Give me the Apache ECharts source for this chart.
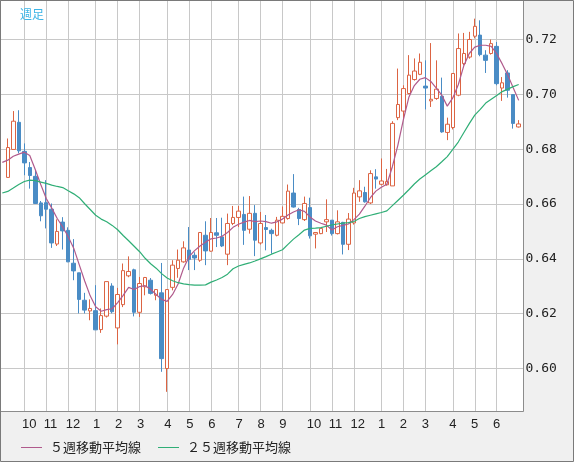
<!DOCTYPE html>
<html>
<head>
<meta charset="utf-8">
<script src="https://cdn.jsdelivr.net/npm/echarts@6/dist/echarts.min.js"></script>
<style>
  html, body { margin: 0; padding: 0; background: #f0f0f0; }
  #chart { width: 574px; height: 462px; }
</style>
</head>
<body>
<div id="chart"></div>
<script>
// weekly candles, slot 0 is empty
const opens = [null, 0.6697, 0.6799, 0.6898, 0.6792, 0.6733, 0.6701, 0.6604, 0.6605, 0.6581,
  0.6454, 0.6534, 0.6504, 0.6384, 0.6349, 0.6249, 0.6210, 0.6211, 0.6142, 0.6191,
  0.6301, 0.6148, 0.6233, 0.6338, 0.6360, 0.6205, 0.6298, 0.6322, 0.6267, 0.6276,
  0.6000, 0.6296, 0.6365, 0.6389, 0.6432, 0.6413, 0.6395, 0.6486, 0.6428, 0.6495,
  0.6480, 0.6417, 0.6529, 0.6551, 0.6562, 0.6508, 0.6566, 0.6458, 0.6514, 0.6504,
  0.6486, 0.6531, 0.6547, 0.6640, 0.6580, 0.6543, 0.6587, 0.6490, 0.6492, 0.6535,
  0.6541, 0.6492, 0.6533, 0.6453, 0.6531, 0.6626, 0.6642, 0.6604, 0.6699, 0.6672,
  0.6670, 0.6666, 0.6915, 0.6939, 0.7003, 0.7054, 0.7073, 0.7030, 0.6976, 0.6985,
  0.6993, 0.6861, 0.6879, 0.6997, 0.7112, 0.7136, 0.7212, 0.7216, 0.7143, 0.7149,
  0.7175, 0.7023, 0.7078, 0.6999, 0.6881];
const closes = [null, 0.6806, 0.6902, 0.6794, 0.6750, 0.6704, 0.6602, 0.6557, 0.6581, 0.6458,
  0.6500, 0.6502, 0.6389, 0.6356, 0.6252, 0.6213, 0.6219, 0.6141, 0.6193, 0.6317,
  0.6207, 0.6270, 0.6357, 0.6354, 0.6205, 0.6310, 0.6332, 0.6274, 0.6288, 0.6036,
  0.6288, 0.6377, 0.6395, 0.6440, 0.6398, 0.6403, 0.6496, 0.6429, 0.6496, 0.6486,
  0.6447, 0.6529, 0.6551, 0.6574, 0.6504, 0.6566, 0.6468, 0.6529, 0.6507, 0.6492,
  0.6541, 0.6555, 0.6647, 0.6589, 0.6547, 0.6602, 0.6484, 0.6496, 0.6511, 0.6543,
  0.6492, 0.6535, 0.6453, 0.6545, 0.6640, 0.6648, 0.6608, 0.6711, 0.6691, 0.6684,
  0.6682, 0.6894, 0.6963, 0.7021, 0.7070, 0.7085, 0.7117, 0.7023, 0.6982, 0.7019,
  0.6863, 0.6891, 0.7076, 0.7167, 0.7149, 0.7200, 0.7248, 0.7145, 0.7124, 0.7185,
  0.7039, 0.7042, 0.7015, 0.6894, 0.6892];
const lows = [null, 0.6697, 0.6799, 0.6785, 0.6705, 0.6656, 0.6600, 0.6537, 0.6511, 0.6440,
  0.6447, 0.6434, 0.6388, 0.6322, 0.6201, 0.6201, 0.6176, 0.6141, 0.6130, 0.6186,
  0.6201, 0.6088, 0.6224, 0.6333, 0.6190, 0.6188, 0.6267, 0.6270, 0.6249, 0.5988,
  0.5915, 0.6285, 0.6331, 0.6386, 0.6359, 0.6359, 0.6389, 0.6377, 0.6426, 0.6443,
  0.6443, 0.6377, 0.6523, 0.6516, 0.6451, 0.6492, 0.6410, 0.6452, 0.6431, 0.6419,
  0.6482, 0.6529, 0.6543, 0.6587, 0.6523, 0.6538, 0.6474, 0.6438, 0.6490, 0.6498,
  0.6485, 0.6489, 0.6416, 0.6432, 0.6525, 0.6608, 0.6605, 0.6600, 0.6656, 0.6668,
  0.6667, 0.6666, 0.6906, 0.6908, 0.7000, 0.7050, 0.7070, 0.6945, 0.6954, 0.6980,
  0.6860, 0.6833, 0.6872, 0.6993, 0.7106, 0.7130, 0.7204, 0.7139, 0.7078, 0.7145,
  0.7033, 0.6976, 0.6988, 0.6875, 0.6879];
const highs = [null, 0.6839, 0.6939, 0.6942, 0.6821, 0.6753, 0.6723, 0.6611, 0.6687, 0.6602,
  0.6544, 0.6552, 0.6515, 0.6472, 0.6349, 0.6276, 0.6252, 0.6304, 0.6219, 0.6317,
  0.6311, 0.6294, 0.6383, 0.6409, 0.6364, 0.6334, 0.6334, 0.6330, 0.6290, 0.6385,
  0.6290, 0.6395, 0.6434, 0.6464, 0.6516, 0.6424, 0.6498, 0.6537, 0.6549, 0.6549,
  0.6550, 0.6565, 0.6593, 0.6593, 0.6627, 0.6629, 0.6596, 0.6571, 0.6560, 0.6510,
  0.6553, 0.6591, 0.6671, 0.6709, 0.6586, 0.6627, 0.6623, 0.6497, 0.6511, 0.6617,
  0.6541, 0.6577, 0.6535, 0.6567, 0.6659, 0.6687, 0.6663, 0.6723, 0.6727, 0.6766,
  0.6728, 0.6902, 0.7094, 0.7033, 0.7143, 0.7131, 0.7149, 0.7124, 0.7187, 0.7124,
  0.7061, 0.6915, 0.7078, 0.7222, 0.7224, 0.7228, 0.7276, 0.7270, 0.7161, 0.7200,
  0.7191, 0.7063, 0.7088, 0.6999, 0.6906];

const ma5 = [0.6752, 0.6760, 0.6774, 0.6782, 0.6789, 0.6777, 0.6726, 0.6671, 0.6620, 0.6585,
  0.6547, 0.6516, 0.6481, 0.6439, 0.6379, 0.6319, 0.6265, 0.6225, 0.6209, 0.6215,
  0.6218, 0.6240, 0.6267, 0.6296, 0.6288, 0.6299, 0.6302, 0.6289, 0.6270, 0.6252,
  0.6245, 0.6270, 0.6308, 0.6366, 0.6408, 0.6430, 0.6447, 0.6461, 0.6473, 0.6476,
  0.6482, 0.6496, 0.6515, 0.6526, 0.6534, 0.6540, 0.6536, 0.6538, 0.6536, 0.6530,
  0.6535, 0.6545, 0.6560, 0.6571, 0.6579, 0.6573, 0.6553, 0.6538, 0.6530, 0.6523,
  0.6505, 0.6517, 0.6522, 0.6527, 0.6543, 0.6563, 0.6592, 0.6623, 0.6647, 0.6661,
  0.6672, 0.6736, 0.6814, 0.6907, 0.6989, 0.7032, 0.7055, 0.7061, 0.7047, 0.7023,
  0.6997, 0.6957, 0.6987, 0.7035, 0.7104, 0.7149, 0.7172, 0.7179, 0.7179, 0.7175,
  0.7148, 0.7111, 0.7071, 0.7024, 0.6978];
const ma25 = [0.6640, 0.6646, 0.6658, 0.6671, 0.6682, 0.6687, 0.6685, 0.6680, 0.6675, 0.6669,
  0.6664, 0.6660, 0.6648, 0.6637, 0.6623, 0.6601, 0.6580, 0.6559, 0.6545, 0.6535,
  0.6522, 0.6506, 0.6485, 0.6466, 0.6446, 0.6426, 0.6402, 0.6382, 0.6366, 0.6346,
  0.6330, 0.6320, 0.6313, 0.6309, 0.6306, 0.6304, 0.6304, 0.6305, 0.6315, 0.6323,
  0.6332, 0.6344, 0.6364, 0.6374, 0.6380, 0.6385, 0.6392, 0.6400, 0.6408, 0.6417,
  0.6425, 0.6433, 0.6453, 0.6472, 0.6488, 0.6505, 0.6511, 0.6512, 0.6514, 0.6519,
  0.6524, 0.6527, 0.6530, 0.6532, 0.6536, 0.6547, 0.6554, 0.6559, 0.6564, 0.6569,
  0.6575, 0.6594, 0.6613, 0.6632, 0.6652, 0.6673, 0.6691, 0.6706, 0.6721, 0.6736,
  0.6754, 0.6773, 0.6799, 0.6826, 0.6860, 0.6893, 0.6924, 0.6945, 0.6968, 0.6982,
  0.6996, 0.7010, 0.7019, 0.7028, 0.7036];

// month tick labels and the week index where each month starts
const monthLabels = ['10', '11', '12', '1', '2', '3', '4', '5', '6', '7', '8', '9',
  '10', '11', '12', '1', '2', '3', '4', '5', '6'];
const monthStart = [4, 8, 12, 17, 21, 25, 30, 34, 38, 43, 47, 51,
  56, 60, 64, 69, 73, 77, 82, 86, 90];

const weeks = opens.map((o, i) => {
  const k = monthStart.indexOf(i);
  return k >= 0 ? monthLabels[k] : '';
});
const isMonthStart = i => monthStart.indexOf(i) >= 0;
const ohlc = opens.map((o, i) => o === null ? '-' : [o, closes[i], lows[i], highs[i]]);

const yMin = 0.58432;
const yMax = 0.73441;
const gridColor = '#c8c8c8';

const chart = echarts.init(document.getElementById('chart'));
chart.setOption({
  backgroundColor: '#f0f0f0',
  animation: false,
  title: {
    text: '週足',
    left: 15,
    top: 3,
    textStyle: { color: '#3cb4e6', fontSize: 12, fontWeight: 'normal', fontFamily: 'Noto Sans CJK JP' }
  },
  legend: {
    data: ['５週移動平均線', '２５週移動平均線'],
    left: 16,
    top: 436,
    icon: 'rect',
    itemWidth: 21,
    itemHeight: 1,
    itemGap: 17,
    textStyle: { fontSize: 13, color: '#222', fontFamily: 'Noto Sans CJK JP', padding: [0, 0, 0, 3] }
  },
  grid: [
    { left: 0, top: 0, width: 523.5, height: 411.5, show: true, backgroundColor: '#fff', borderWidth: 0 },
    { left: 2.3, top: 0, width: 516.4, height: 411.5 },
    { left: -1.5, top: 0, width: 516.4, height: 411.5 }
  ],
  xAxis: [
    { type: 'value', gridIndex: 0, show: false, min: 0, max: 1 },
    {
      type: 'category',
      gridIndex: 1,
      data: weeks,
      boundaryGap: false,
      axisLine: { show: false },
      axisTick: { show: false },
      axisLabel: { show: false },
      splitLine: { show: true, interval: i => isMonthStart(i), lineStyle: { color: gridColor } }
    },
    {
      type: 'category',
      gridIndex: 2,
      data: weeks,
      boundaryGap: false,
      axisLine: { show: false },
      axisTick: { show: false },
      splitLine: { show: false },
      axisLabel: {
        interval: i => isMonthStart(i),
        align: 'left',
        margin: 6,
        fontSize: 13,
        fontFamily: 'Liberation Sans',
        color: '#222'
      }
    }
  ],
  yAxis: [
    {
      type: 'value',
      gridIndex: 0,
      position: 'right',
      min: yMin,
      max: yMax,
      splitNumber: 7,
      minInterval: 0.02,
      maxInterval: 0.02,
      axisLine: { show: false },
      axisTick: { show: false },
      splitLine: { lineStyle: { color: gridColor } },
      axisLabel: {
        margin: 2,
        showMinLabel: false,
        showMaxLabel: false,
        formatter: v => v.toFixed(2),
        fontSize: 13,
        fontFamily: 'DejaVu Sans Mono',
        color: '#222'
      }
    },
    { type: 'value', gridIndex: 1, min: yMin, max: yMax, show: false },
    { type: 'value', gridIndex: 2, min: yMin, max: yMax, show: false }
  ],
  graphic: [
    {
      type: 'rect', z: 100, silent: true,
      shape: { x: 0.5, y: 0.5, width: 523, height: 411 },
      style: { fill: 'transparent', stroke: '#8c8c8c', lineWidth: 1 }
    },
    {
      type: 'rect', z: 101, silent: true,
      shape: { x: 0.5, y: 0.5, width: 573, height: 461 },
      style: { fill: 'transparent', stroke: '#7a7a7a', lineWidth: 1 }
    }
  ],
  series: [
    {
      type: 'candlestick',
      xAxisIndex: 1,
      yAxisIndex: 1,
      data: ohlc,
      barWidth: 4,
      clip: false,
      itemStyle: {
        color: '#ffffff',
        color0: '#4a8cc5',
        borderColor: '#dc6443',
        borderColor0: '#4a8cc5',
        borderWidth: 1
      }
    },
    {
      name: '５週移動平均線',
      type: 'line',
      xAxisIndex: 1,
      yAxisIndex: 1,
      data: ma5,
      symbol: 'none',
      clip: false,
      z: 3,
      color: '#b05a8c',
      lineStyle: { width: 1.2, color: '#b05a8c' }
    },
    {
      name: '２５週移動平均線',
      type: 'line',
      xAxisIndex: 1,
      yAxisIndex: 1,
      data: ma25,
      symbol: 'none',
      clip: false,
      z: 3,
      color: '#2fae76',
      lineStyle: { width: 1.2, color: '#2fae76' }
    }
  ]
});
</script>
</body>
</html>
